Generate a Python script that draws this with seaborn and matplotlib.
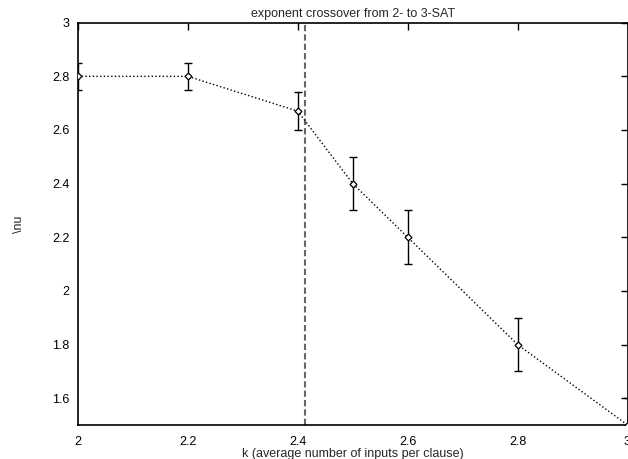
import matplotlib
matplotlib.use("Agg")
import matplotlib.pyplot as plt
import seaborn as sns
import pandas as pd

k_values = [2.0, 2.2, 2.4, 2.5, 2.6, 2.8, 3.0]
nu_values = [2.8, 2.8, 2.67, 2.4, 2.2, 1.8, 1.5]
nu_errors = [0.05, 0.05, 0.07, 0.1, 0.1, 0.1, 0.1]
crossover_k = 2.414
x_ticks = [2, 2.2, 2.4, 2.6, 2.8, 3]
x_tick_labels = ["2", "2.2", "2.4", "2.6", "2.8", "3"]
y_ticks = [1.6, 1.8, 2, 2.2, 2.4, 2.6, 2.8, 3]
y_tick_labels = ["1.6", "1.8", "2", "2.2", "2.4", "2.6", "2.8", "3"]

df = pd.DataFrame({"k": k_values, "nu": nu_values, "err": nu_errors})

sns.set_style("white")
plt.rcParams["font.family"] = ["Liberation Sans", "DejaVu Sans"]

fig = plt.figure(figsize=(6.28, 4.59), dpi=100)
ax = fig.add_axes([78 / 628, 1 - 425 / 459, (627.5 - 78) / 628, (425 - 22.7) / 459])

ax.errorbar(df["k"], df["nu"], yerr=df["err"], fmt="none", ecolor="black",
            elinewidth=1.0, capsize=3, capthick=1.0, zorder=3)
sns.lineplot(data=df, x="k", y="nu", ax=ax, color="black", linestyle=":",
             linewidth=1.0, marker="D", markersize=3.5, markerfacecolor="white",
             markeredgecolor="black", markeredgewidth=0.9, zorder=4)
ax.axvline(crossover_k, color="#666666", linestyle=(0, (3, 1.5)), linewidth=1.5, zorder=2)

ax.set_xlim(2, 3)
ax.set_ylim(1.5, 3)
ax.set_xticks(x_ticks)
ax.set_xticklabels(x_tick_labels)
ax.set_yticks(y_ticks)
ax.set_yticklabels(y_tick_labels)
ax.tick_params(direction="in", length=5, width=1, top=True, right=True,
               labelsize=9, colors="black")
ax.tick_params(axis="x", pad=8)
ax.tick_params(axis="y", pad=6)
for s in ax.spines.values():
    s.set_color("black")
    s.set_linewidth(1.2)

ax.set_title("exponent crossover from 2- to 3-SAT", fontsize=9, pad=4)
ax.set_xlabel("k (average number of inputs per clause)", fontsize=9, labelpad=0)
ax.set_ylabel("\\nu", fontsize=9, labelpad=20)

fig.savefig("out.png", dpi=100)
